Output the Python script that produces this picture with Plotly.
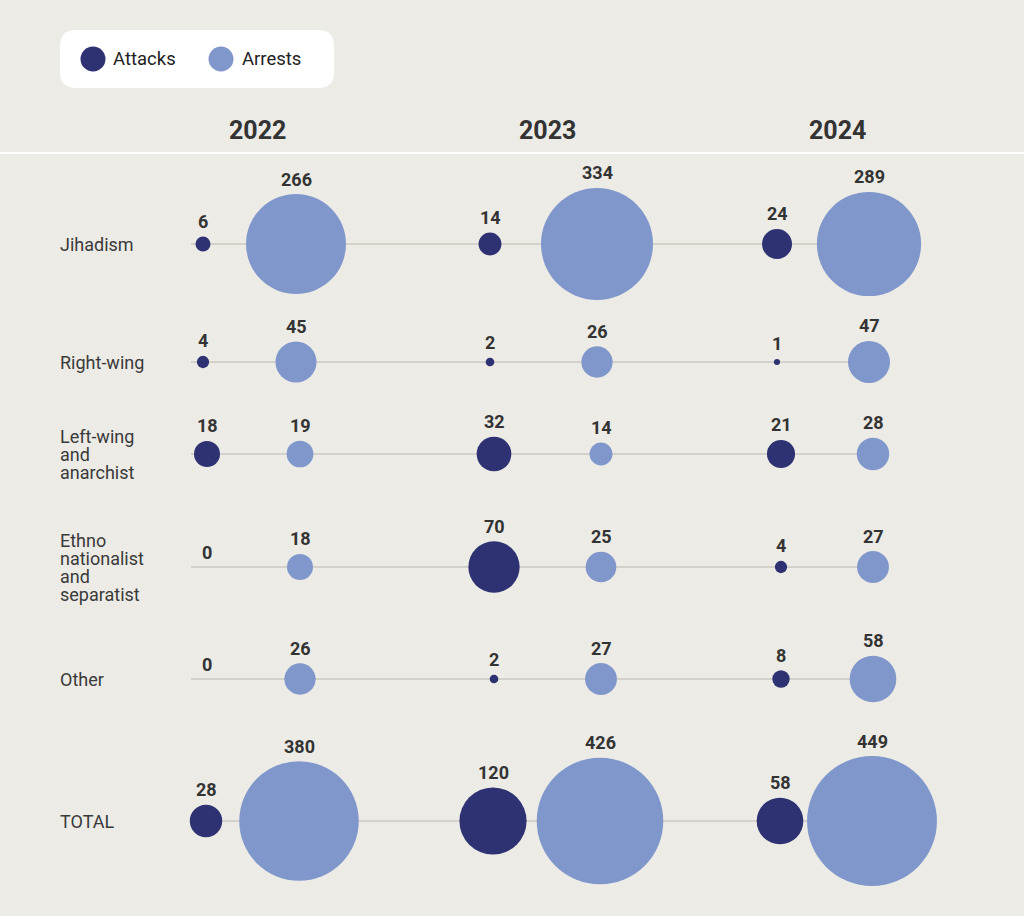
import math
import plotly.graph_objects as go

# ---------------- data ----------------
years = ["2022", "2023", "2024"]
categories = ["Jihadism", "Right-wing", "Left-wing<br>and<br>anarchist",
              "Ethno<br>nationalist<br>and<br>separatist", "Other", "TOTAL"]
attacks_2022 = [6, 4, 18, 0, 0, 28]
attacks_2023 = [14, 2, 32, 70, 2, 120]
attacks_2024 = [24, 1, 21, 4, 8, 58]
arrests_2022 = [266, 45, 19, 18, 26, 380]
arrests_2023 = [334, 26, 14, 25, 27, 426]
arrests_2024 = [289, 47, 28, 27, 58, 449]
series_names = ["Attacks", "Arrests"]

# ---------------- layout / style constants ----------------
W, H = 1024, 916
BG = "#ECEBE6"
C_ATT = "#2E3272"
C_ARR = "#8097CC"
TXT = "#333333"
FONT = "Roboto"
row_y = [244, 362, 454, 567, 679, 821]
row_dx = [0, 0, 4, 4, 4, 3]
year_x = [257, 547, 837]
att_x = [203, 490, 777]
arr_x = [296, 597, 869]
SIZEREF = 2 / (6.13 ** 2)  # diameter ~ 6.13*sqrt(value) px (area mode)

attacks = [attacks_2022, attacks_2023, attacks_2024]
arrests = [arrests_2022, arrests_2023, arrests_2024]


def radius(v):
    return 0.5 * math.sqrt(2 * v / SIZEREF) if v > 0 else 0


fig = go.Figure()
shapes = []
annotations = []

# row guide lines
for i, y in enumerate(row_y):
    shapes.append(dict(type="line", xref="x", yref="y", x0=191, x1=arr_x[2] + row_dx[i],
                       y0=y, y1=y, line=dict(color="#CBC9C1", width=1.5), layer="below"))

# white separator line
shapes.append(dict(type="line", xref="paper", yref="y", x0=0, x1=1, y0=153, y1=153,
                   line=dict(color="#FFFFFF", width=2), layer="below"))

for j, yr in enumerate(years):
    for sname, data, xs, col in [("Attacks", attacks[j], att_x, C_ATT),
                                 ("Arrests", arrests[j], arr_x, C_ARR)]:
        xv = [xs[j] + row_dx[i] for i in range(len(categories))]
        fig.add_trace(go.Scatter(
            x=xv, y=row_y, mode="markers", name=f"{sname} {yr}", showlegend=False,
            marker=dict(size=data, sizemode="area", sizeref=SIZEREF, sizemin=0,
                        color=col, line=dict(width=0), opacity=1),
            hovertemplate=f"{sname} {yr}: %{{customdata}}<extra></extra>",
            customdata=data,
        ))
        for i, v in enumerate(data):
            annotations.append(dict(
                x=xv[i], y=row_y[i], xref="x", yref="y", text=f"<b>{v}</b>",
                showarrow=False, yanchor="middle", xanchor="center",
                yshift=radius(v) + 15,
                font=dict(family=FONT, size=18, color=TXT)))
    annotations.append(dict(x=year_x[j], y=130, xref="x", yref="y", text=f"<b>{yr}</b>",
                            showarrow=False, xanchor="center", yanchor="middle",
                            font=dict(family=FONT, size=25, color=TXT)))

# category labels (tight line spacing ~18px, as in the reference)
for i, cat in enumerate(categories):
    lines = cat.split("<br>")
    n = len(lines)
    for k, ln in enumerate(lines):
        annotations.append(dict(x=58, y=row_y[i], xref="x", yref="y", text=ln,
                                showarrow=False, xanchor="left", yanchor="middle",
                                yshift=-(k - (n - 1) / 2) * 18,
                                font=dict(family=FONT, size=18, color="#3A3A3A")))

# legend box
x0, x1, y0, y1, r = 60, 334, 30, 88, 16
path = (f"M {x0+r},{y0} L {x1-r},{y0} Q {x1},{y0} {x1},{y0+r} L {x1},{y1-r} "
        f"Q {x1},{y1} {x1-r},{y1} L {x0+r},{y1} Q {x0},{y1} {x0},{y1-r} "
        f"L {x0},{y0+r} Q {x0},{y0} {x0+r},{y0} Z")
shapes.append(dict(type="path", xref="x", yref="y", path=path,
                   fillcolor="#FFFFFF", line=dict(width=0), layer="below"))
for cx, tx, col, nm in [(93, 111, C_ATT, series_names[0]), (221, 240, C_ARR, series_names[1])]:
    shapes.append(dict(type="circle", xref="x", yref="y", x0=cx - 12.5, x1=cx + 12.5,
                       y0=59 - 12.5, y1=59 + 12.5, fillcolor=col, line=dict(width=0)))
    annotations.append(dict(x=tx, y=59, xref="x", yref="y", text=nm, showarrow=False,
                            xanchor="left", yanchor="middle",
                            font=dict(family=FONT, size=18.5, color="#222222")))

fig.update_layout(
    width=W, height=H, margin=dict(l=0, r=0, t=0, b=0),
    paper_bgcolor=BG, plot_bgcolor=BG,
    xaxis=dict(range=[0, W], visible=False, fixedrange=True),
    yaxis=dict(range=[H, 0], visible=False, fixedrange=True),
    shapes=shapes, annotations=annotations, showlegend=False,
    font=dict(family=FONT),
)

fig.write_html("out.html", config={"displayModeBar": False},
               post_script="document.body.style.margin='0';")
